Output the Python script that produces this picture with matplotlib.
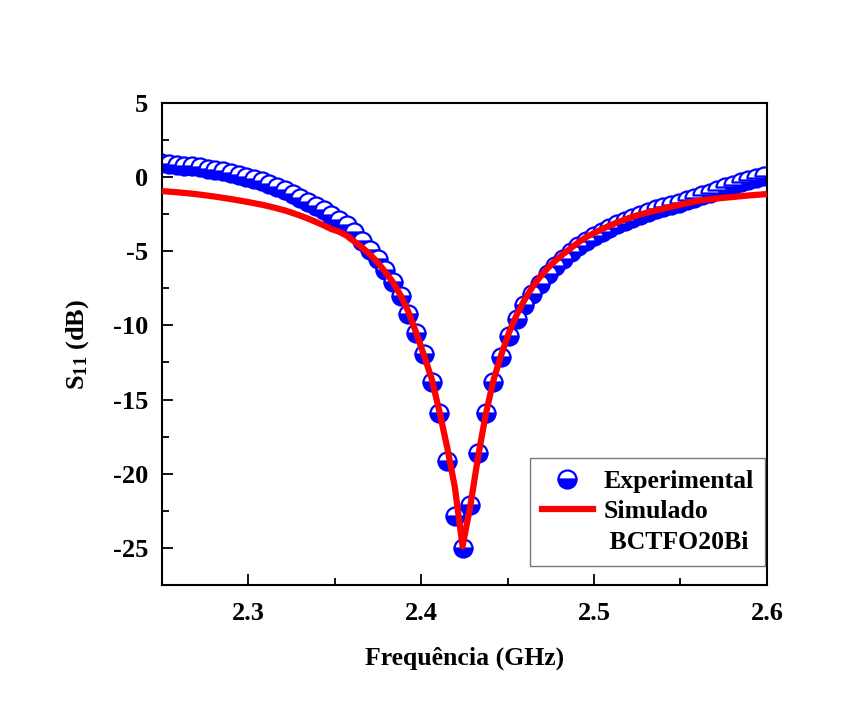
import numpy as np
import matplotlib
matplotlib.use("Agg")
import matplotlib.pyplot as plt
from matplotlib.lines import Line2D
from matplotlib.ticker import MultipleLocator

# frequency sweep (GHz), 79 points
freq = np.linspace(2.2496, 2.5982, 79)

# measured S11 (dB)
s11_exp = [
    0.92, 0.88, 0.83, 0.78, 0.72, 0.65, 0.57, 0.48, 0.38, 0.27,
    0.15, 0.02, -0.12, -0.28, -0.47, -0.67, -0.90, -1.15, -1.40, -1.67,
    -1.95, -2.25, -2.57, -2.90, -3.25, -3.73, -4.29, -4.91, -5.52, -6.25,
    -7.08, -8.04, -9.20, -10.50, -11.93, -13.79, -15.90, -19.15, -22.84, -25.00,
    -22.10, -18.60, -15.90, -13.80, -12.10, -10.72, -9.60, -8.65, -7.86, -7.19,
    -6.55, -6.00, -5.50, -5.06, -4.67, -4.32, -4.00, -3.71, -3.44, -3.19,
    -2.96, -2.75, -2.55, -2.36, -2.18, -2.05, -1.88, -1.72, -1.55, -1.38,
    -1.21, -1.04, -0.87, -0.70, -0.53, -0.36, -0.19, -0.03, 0.10,
]

# simulated S11 (dB)
s11_sim = [
    -0.94, -0.98, -1.02, -1.07, -1.12, -1.18, -1.25, -1.32, -1.40, -1.48,
    -1.57, -1.66, -1.76, -1.86, -1.98, -2.11, -2.25, -2.42, -2.60, -2.80,
    -3.02, -3.25, -3.50, -3.68, -3.95, -4.35, -4.75, -5.20, -5.75, -6.40,
    -7.10, -8.00, -9.10, -10.50, -12.00, -13.60, -15.80, -18.20, -20.90, -24.90,
    -22.20, -18.90, -16.00, -13.70, -12.00, -10.50, -9.30, -8.30, -7.45, -6.75,
    -6.15, -5.65, -5.20, -4.80, -4.40, -4.05, -3.78, -3.52, -3.28, -3.06,
    -2.86, -2.68, -2.52, -2.38, -2.25, -2.12, -2.00, -1.88, -1.76, -1.65,
    -1.56, -1.50, -1.44, -1.39, -1.34, -1.29, -1.24, -1.20, -1.16,
]

plt.rcParams['font.family'] = ['Liberation Serif', 'DejaVu Serif']
plt.rcParams['font.weight'] = 'bold'
plt.rcParams['axes.unicode_minus'] = False
plt.rcParams['mathtext.fontset'] = 'custom'
plt.rcParams['mathtext.rm'] = 'Liberation Serif:bold'
plt.rcParams['mathtext.it'] = 'Liberation Serif:bold'
plt.rcParams['mathtext.bf'] = 'Liberation Serif:bold'

fig = plt.figure(figsize=(8.46, 7.15), dpi=100)
ax = fig.add_axes([0.1915, 0.182, 0.715, 0.674])

ax.plot(freq, s11_exp, 'o', ls='none', ms=13, mew=1.6,
        fillstyle='bottom', mfc='#0000ff', mfcalt='white', mec='#0000ff',
        label='Experimental', zorder=2)
ax.plot(freq, s11_sim, color='#ff0000', lw=4.5, label='Simulado', zorder=3)

ax.set_xlim(2.25, 2.6)
ax.set_ylim(-27.5, 5)
ax.xaxis.set_major_locator(MultipleLocator(0.1))
ax.xaxis.set_minor_locator(MultipleLocator(0.05))
ax.yaxis.set_major_locator(MultipleLocator(5))
ax.yaxis.set_minor_locator(MultipleLocator(2.5))
ax.tick_params(which='both', direction='in', top=False, right=False,
               width=1.3, labelsize=19)
ax.tick_params(axis='x', pad=12)
ax.tick_params(axis='y', pad=10)
ax.tick_params(which='major', length=8)
ax.tick_params(which='minor', length=5)
for lbl in ax.get_xticklabels() + ax.get_yticklabels():
    lbl.set_fontweight('bold')
for sp in ax.spines.values():
    sp.set_linewidth(1.5)

ax.set_xlabel('Frequência (GHz)', fontsize=18.5, fontweight='bold', labelpad=16)
ax.set_ylabel('S$_{11}$ (dB)', fontsize=19, fontweight='bold', labelpad=16)

blank = Line2D([], [], ls='none', marker=None)
handles, labels = ax.get_legend_handles_labels()
handles.append(blank)
labels.append(' BCTFO20Bi')
leg = ax.legend(handles, labels, loc='lower right', bbox_to_anchor=(0.997, 0.04),
                frameon=True, fancybox=False, handlelength=2.0,
                handletextpad=0.4, borderpad=0.45, labelspacing=0.3,
                borderaxespad=0.0, prop={'weight': 'bold', 'size': 18.5})
leg.get_frame().set_edgecolor('#555555')
leg.get_frame().set_linewidth(1.0)

fig.savefig('out.png', dpi=100)
